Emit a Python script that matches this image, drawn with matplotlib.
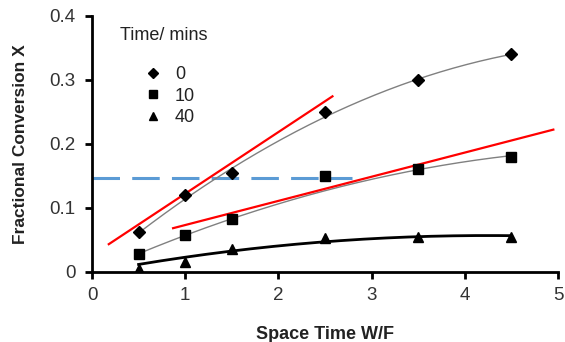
import numpy as np
import matplotlib
matplotlib.use("Agg")
import matplotlib.pyplot as plt
from matplotlib.lines import Line2D

plt.rcParams['font.family'] = ['Liberation Sans', 'DejaVu Sans']

space_time = [0.5, 1.0, 1.5, 2.5, 3.5, 4.5]
conv_0 = [0.062, 0.120, 0.155, 0.250, 0.300, 0.340]
conv_10 = [0.027, 0.057, 0.082, 0.150, 0.160, 0.180]
conv_40 = [0.005, 0.015, 0.035, 0.052, 0.054, 0.055]
series_labels = ["0", "10", "40"]
legend_title = "Time/ mins"

# trendline values at the same space-time points
trend_0 = [0.060, 0.115, 0.160, 0.243, 0.300, 0.340]
trend_10 = [0.030, 0.056, 0.080, 0.127, 0.162, 0.180]
trend_40 = [0.0114, 0.0225, 0.0323, 0.0468, 0.0547, 0.0563]

red_line1_x = [0.18, 2.58]
red_line1_y = [0.043, 0.274]
red_line2_x = [0.87, 4.95]
red_line2_y = [0.068, 0.222]
blue_y = 0.146
blue_x = [0.0, 2.79]

fig = plt.figure(figsize=(5.65, 3.42), dpi=100)
ax = fig.add_axes([92/565, 1 - 271.7/342, (558-92)/565, (271.7-15.7)/342])

xs = np.linspace(0.5, 4.5, 200)
for tr, col, lw in [(trend_0, '#808080', 1.0), (trend_10, '#808080', 1.0), (trend_40, 'black', 2.0)]:
    c = np.polyfit(space_time, tr, 2)
    ax.plot(xs, np.polyval(c, xs), color=col, lw=lw, zorder=2)

ax.plot(red_line1_x, red_line1_y, color='#ff0000', lw=1.6, zorder=3)
ax.plot(red_line2_x, red_line2_y, color='#ff0000', lw=1.6, zorder=3)
ax.plot(blue_x, [blue_y, blue_y], color='#5b9bd5', lw=2.2, dashes=(9, 4), zorder=1)

markers = ['D', 's', '^']
sizes = [6, 6.5, 7]
for yv, m, ms, lab in zip([conv_0, conv_10, conv_40], markers, sizes, series_labels):
    ax.plot(space_time, yv, m, color='black', ms=ms, ls='none', label=lab, zorder=4)

ax.set_xlim(0, 5)
ax.set_ylim(0, 0.4)
ax.set_xticks([0, 1, 2, 3, 4, 5])
ax.set_yticks([0, 0.1, 0.2, 0.3, 0.4])
ax.set_yticklabels(['0', '0.1', '0.2', '0.3', '0.4'])
for s in ['top', 'right']:
    ax.spines[s].set_visible(False)
for s in ['left', 'bottom']:
    ax.spines[s].set_linewidth(2.0)
ax.tick_params(width=2.0, length=5, labelsize=13.5, colors='black', labelcolor='#333333')
ax.tick_params(axis='x', pad=6)
ax.tick_params(axis='y', pad=7)

ax.set_xlabel('Space Time W/F', fontsize=13, fontweight='bold', color='#222222', labelpad=16)
ax.set_ylabel('Fractional Conversion X', fontsize=12.5, fontweight='bold', color='#222222', labelpad=15)

ax.text(0.06, 0.922, legend_title, transform=ax.transAxes, fontsize=13,
        color='#222222', ha='left', va='center')
handles = [Line2D([], [], marker=m, color='black', ls='none', ms=ms * 0.85) for m, ms in zip(markers, sizes)]
ax.legend(handles, series_labels, loc='upper left', bbox_to_anchor=(0.116, 0.803),
          frameon=False, fontsize=13, handletextpad=0.8, labelspacing=0.25,
          handlelength=0.8, borderpad=0, borderaxespad=0, labelcolor='#222222')

fig.savefig('out.png', dpi=100)
